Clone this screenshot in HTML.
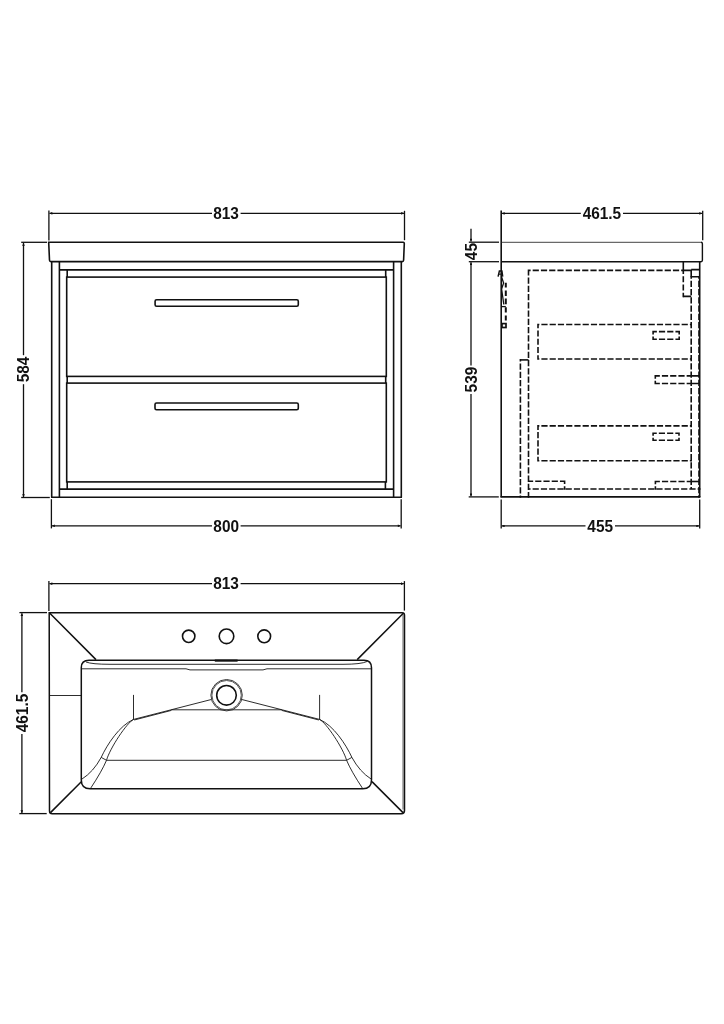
<!DOCTYPE html>
<html><head><meta charset="utf-8">
<style>
html,body{margin:0;padding:0;background:#fff;width:724px;height:1024px;overflow:hidden}
svg{display:block;filter:grayscale(1)}
text{font-family:"Liberation Sans",sans-serif;font-weight:bold;font-size:15.4px;fill:#111}
</style></head>
<body>
<svg width="724" height="1024" viewBox="0 0 724 1024">
<defs>
<marker id="ae" viewBox="0 0 10 10" refX="10" refY="5" markerWidth="7" markerHeight="2.8" orient="auto" markerUnits="userSpaceOnUse"><path d="M0,0 L10,5 L0,10z" fill="#111"/></marker>
<marker id="as" viewBox="0 0 10 10" refX="0" refY="5" markerWidth="7" markerHeight="2.8" orient="auto" markerUnits="userSpaceOnUse"><path d="M10,0 L0,5 L10,10z" fill="#111"/></marker>
</defs>
<g fill="none" stroke="#111" stroke-width="1.6" stroke-linecap="butt">
<!-- ===== FRONT VIEW ===== -->
<!-- dim 813 -->
<line x1="48.9" y1="210.5" x2="48.9" y2="240.5" stroke-width="1.3"/>
<line x1="404.5" y1="210.8" x2="404.5" y2="240.2" stroke-width="1.3"/>
<line x1="49.5" y1="213.3" x2="212" y2="213.3" stroke-width="1.3" marker-start="url(#as)"/>
<line x1="240.6" y1="213.3" x2="404" y2="213.3" stroke-width="1.3" marker-end="url(#ae)"/>
<!-- counter top -->
<path d="M48.7,242.3 H403.2 Q404.3,242.3 404.3,243.5 L403.6,260.3 Q403.5,261.6 402.2,261.6 H51 Q49.6,261.6 49.5,260.3 Z"/>
<!-- cabinet -->
<line x1="51.7" y1="261.6" x2="51.7" y2="497.4"/>
<line x1="401.3" y1="261.6" x2="401.3" y2="497.4"/>
<line x1="59.4" y1="261.6" x2="59.4" y2="497.4"/>
<line x1="393.6" y1="261.6" x2="393.6" y2="497.4"/>
<line x1="51" y1="497.3" x2="402" y2="497.3"/>
<line x1="59.4" y1="269.9" x2="393.6" y2="269.9"/>
<line x1="59.4" y1="489.1" x2="393.6" y2="489.1"/>
<!-- drawers -->
<path d="M67.2,269.9 V277 M385.7,269.9 V277"/>
<rect x="66.7" y="277.1" width="319.6" height="99.3"/>
<path d="M67.2,376.4 V383.1 M385.7,376.4 V383.1"/>
<rect x="66.7" y="383.1" width="319.6" height="98.8"/>
<path d="M67.2,481.9 V489.1 M385.4,481.9 V489.1"/>
<!-- handles -->
<rect x="155.1" y="299.8" width="143.2" height="6.4" rx="1.5"/>
<rect x="155" y="403" width="143.3" height="6.8" rx="1.5"/>
<!-- dim 584 -->
<line x1="21.2" y1="242.3" x2="47" y2="242.3" stroke-width="1.3"/>
<line x1="21.2" y1="497.5" x2="49.8" y2="497.5" stroke-width="1.3"/>
<line x1="23.5" y1="243" x2="23.5" y2="355.2" stroke-width="1.3" marker-start="url(#as)"/>
<line x1="23.5" y1="384.2" x2="23.5" y2="497" stroke-width="1.3" marker-end="url(#ae)"/>
<!-- dim 800 -->
<line x1="51.4" y1="499.2" x2="51.4" y2="528.4" stroke-width="1.3"/>
<line x1="401.2" y1="499.2" x2="401.2" y2="528.4" stroke-width="1.3"/>
<line x1="52" y1="525.8" x2="212" y2="525.8" stroke-width="1.3" marker-start="url(#as)"/>
<line x1="240.6" y1="525.8" x2="400.6" y2="525.8" stroke-width="1.3" marker-end="url(#ae)"/>

<!-- ===== SIDE VIEW ===== -->
<!-- dim 461.5 -->
<line x1="501.2" y1="210.5" x2="501.2" y2="497.2"/>
<line x1="702.7" y1="210.8" x2="702.7" y2="240.2" stroke-width="1.3"/>
<line x1="501.8" y1="213.4" x2="580.8" y2="213.4" stroke-width="1.3" marker-start="url(#as)"/>
<line x1="623" y1="213.4" x2="702.1" y2="213.4" stroke-width="1.3" marker-end="url(#ae)"/>
<!-- counter -->
<path d="M501.8,242.3 H701" stroke-width="1" stroke="#444"/>
<path d="M701,242.3 Q702.4,242.3 702.4,243.7 V260.3 Q702.4,261.7 701,261.7" stroke-width="1.4"/>
<line x1="501.2" y1="261.7" x2="701" y2="261.7"/>
<!-- body -->
<line x1="699.7" y1="261.7" x2="699.7" y2="497.2"/>
<line x1="500.5" y1="496.9" x2="700.4" y2="496.9"/>
<!-- ext lines -->
<line x1="468.8" y1="242.2" x2="499" y2="242.2" stroke-width="1.3"/>
<line x1="468.8" y1="261.7" x2="499" y2="261.7" stroke-width="1.3"/>
<line x1="468.7" y1="496.9" x2="498.8" y2="496.9" stroke-width="1.3"/>
<!-- dim 45 -->
<line x1="471" y1="228.7" x2="471" y2="241.6" stroke-width="1.3" marker-end="url(#ae)"/>
<!-- dim 539 -->
<line x1="471" y1="262.3" x2="471" y2="365.4" stroke-width="1.3" marker-start="url(#as)"/>
<line x1="471" y1="394" x2="471" y2="496.3" stroke-width="1.3" marker-end="url(#ae)"/>
<!-- dim 455 -->
<line x1="501.2" y1="499.4" x2="501.2" y2="528.4" stroke-width="1.3"/>
<line x1="699.7" y1="499.4" x2="699.7" y2="528.4" stroke-width="1.3"/>
<line x1="501.8" y1="525.9" x2="585.5" y2="525.9" stroke-width="1.3" marker-start="url(#as)"/>
<line x1="615" y1="525.9" x2="699.1" y2="525.9" stroke-width="1.3" marker-end="url(#ae)"/>
<!-- solid bits -->
<path d="M683.3,261.7 V270.4 H691.2 V276.7 M691.2,269.6 H699.7 M691.2,276.7 H699.7 M683.3,296.4 H691.2"/>
<path d="M691.2,375.9 H699.7 M691.2,383.5 H699.7"/>
<path d="M691.2,481.5 H699.7"/>
<path d="M520.4,359.9 H528.5"/>
</g>
<!-- dashed -->
<g fill="none" stroke="#111" stroke-width="1.6" stroke-linecap="square">
<path d="M528.50,270.40 L529.82,270.40 M533.48,270.40 L538.07,270.40 M541.73,270.40 L546.32,270.40 M549.98,270.40 L554.57,270.40 M558.23,270.40 L562.82,270.40 M566.48,270.40 L571.07,270.40 M574.73,270.40 L579.32,270.40 M582.98,270.40 L587.57,270.40 M591.23,270.40 L595.82,270.40 M599.48,270.40 L604.07,270.40 M607.73,270.40 L612.32,270.40 M615.98,270.40 L620.57,270.40 M624.23,270.40 L628.82,270.40 M632.48,270.40 L637.07,270.40 M640.73,270.40 L645.32,270.40 M648.98,270.40 L653.57,270.40 M657.22,270.40 L661.83,270.40 M665.47,270.40 L670.08,270.40 M673.72,270.40 L678.33,270.40 M681.97,270.40 L683.30,270.40 M528.50,270.40 L528.50,274.62 M528.50,278.27 L528.50,282.88 M528.50,286.52 L528.50,291.12 M528.50,294.77 L528.50,299.38 M528.50,303.02 L528.50,307.62 M528.50,311.27 L528.50,315.88 M528.50,319.52 L528.50,324.12 M528.50,327.77 L528.50,332.38 M528.50,336.02 L528.50,340.62 M528.50,344.27 L528.50,348.88 M528.50,352.52 L528.50,357.12 M528.50,360.77 L528.50,365.38 M528.50,369.02 L528.50,373.62 M528.50,377.27 L528.50,381.88 M528.50,385.52 L528.50,390.12 M528.50,393.77 L528.50,398.38 M528.50,402.02 L528.50,406.62 M528.50,410.27 L528.50,414.88 M528.50,418.52 L528.50,423.12 M528.50,426.77 L528.50,431.38 M528.50,435.02 L528.50,439.62 M528.50,443.27 L528.50,447.88 M528.50,451.52 L528.50,456.12 M528.50,459.77 L528.50,464.38 M528.50,468.02 L528.50,472.62 M528.50,476.27 L528.50,480.88 M528.50,484.52 L528.50,489.12 M528.50,492.77 L528.50,497.00 M683.30,270.40 L683.30,273.32 M683.30,276.97 L683.30,281.57 M683.30,285.22 L683.30,289.82 M683.30,293.47 L683.30,296.40 M691.20,276.70 L691.20,277.90 M691.20,281.55 L691.20,286.15 M691.20,289.80 L691.20,294.40 M691.20,298.05 L691.20,302.65 M691.20,306.30 L691.20,310.90 M691.20,314.55 L691.20,319.15 M691.20,322.80 L691.20,327.40 M691.20,331.05 L691.20,335.65 M691.20,339.30 L691.20,343.90 M691.20,347.55 L691.20,352.15 M691.20,355.80 L691.20,360.40 M691.20,364.05 L691.20,368.65 M691.20,372.30 L691.20,376.90 M691.20,380.55 L691.20,385.15 M691.20,388.80 L691.20,393.40 M691.20,397.05 L691.20,401.65 M691.20,405.30 L691.20,409.90 M691.20,413.55 L691.20,418.15 M691.20,421.80 L691.20,426.40 M691.20,430.05 L691.20,434.65 M691.20,438.30 L691.20,442.90 M691.20,446.55 L691.20,451.15 M691.20,454.80 L691.20,459.40 M691.20,463.05 L691.20,467.65 M691.20,471.30 L691.20,475.90 M691.20,479.55 L691.20,484.15 M691.20,487.80 L691.20,489.00 M691.20,324.50 L690.68,324.50 M687.02,324.50 L682.43,324.50 M678.77,324.50 L674.18,324.50 M670.52,324.50 L665.93,324.50 M662.27,324.50 L657.68,324.50 M654.02,324.50 L649.43,324.50 M645.77,324.50 L641.18,324.50 M637.52,324.50 L632.93,324.50 M629.27,324.50 L624.68,324.50 M621.02,324.50 L616.43,324.50 M612.77,324.50 L608.18,324.50 M604.52,324.50 L599.93,324.50 M596.27,324.50 L591.68,324.50 M588.02,324.50 L583.43,324.50 M579.77,324.50 L575.18,324.50 M571.52,324.50 L566.93,324.50 M563.27,324.50 L558.67,324.50 M555.03,324.50 L550.42,324.50 M546.78,324.50 L542.17,324.50 M538.53,324.50 L538.00,324.50 M538.00,324.50 L538.00,327.55 M538.00,331.20 L538.00,335.80 M538.00,339.45 L538.00,344.05 M538.00,347.70 L538.00,352.30 M538.00,355.95 L538.00,359.00 M538.00,359.00 L538.52,359.00 M542.18,359.00 L546.77,359.00 M550.43,359.00 L555.02,359.00 M558.68,359.00 L563.27,359.00 M566.93,359.00 L571.52,359.00 M575.18,359.00 L579.77,359.00 M583.43,359.00 L588.02,359.00 M591.68,359.00 L596.27,359.00 M599.93,359.00 L604.52,359.00 M608.18,359.00 L612.77,359.00 M616.43,359.00 L621.02,359.00 M624.68,359.00 L629.27,359.00 M632.93,359.00 L637.52,359.00 M641.18,359.00 L645.77,359.00 M649.43,359.00 L654.02,359.00 M657.68,359.00 L662.27,359.00 M665.93,359.00 L670.53,359.00 M674.17,359.00 L678.78,359.00 M682.42,359.00 L687.03,359.00 M690.67,359.00 L691.20,359.00 M653.10,331.60 L656.08,331.60 M659.73,331.60 L664.33,331.60 M667.98,331.60 L672.58,331.60 M676.23,331.60 L679.20,331.60 M679.20,331.60 L679.20,333.62 M679.20,337.28 L679.20,339.30 M679.20,339.30 L676.23,339.30 M672.58,339.30 L667.98,339.30 M664.33,339.30 L659.73,339.30 M656.08,339.30 L653.10,339.30 M653.10,339.30 L653.10,337.28 M653.10,333.62 L653.10,331.60 M691.20,375.90 L687.45,375.90 M683.80,375.90 L679.20,375.90 M675.55,375.90 L670.95,375.90 M667.30,375.90 L662.70,375.90 M659.05,375.90 L655.30,375.90 M655.30,375.90 L655.30,377.88 M655.30,381.52 L655.30,383.50 M655.30,383.50 L659.05,383.50 M662.70,383.50 L667.30,383.50 M670.95,383.50 L675.55,383.50 M679.20,383.50 L683.80,383.50 M687.45,383.50 L691.20,383.50 M691.20,425.90 L690.68,425.90 M687.02,425.90 L682.43,425.90 M678.77,425.90 L674.18,425.90 M670.52,425.90 L665.93,425.90 M662.27,425.90 L657.68,425.90 M654.02,425.90 L649.43,425.90 M645.77,425.90 L641.18,425.90 M637.52,425.90 L632.93,425.90 M629.27,425.90 L624.68,425.90 M621.02,425.90 L616.43,425.90 M612.77,425.90 L608.18,425.90 M604.52,425.90 L599.93,425.90 M596.27,425.90 L591.68,425.90 M588.02,425.90 L583.43,425.90 M579.77,425.90 L575.18,425.90 M571.52,425.90 L566.93,425.90 M563.27,425.90 L558.67,425.90 M555.03,425.90 L550.42,425.90 M546.78,425.90 L542.17,425.90 M538.53,425.90 L538.00,425.90 M538.00,425.90 L538.00,429.15 M538.00,432.80 L538.00,437.40 M538.00,441.05 L538.00,445.65 M538.00,449.30 L538.00,453.90 M538.00,457.55 L538.00,460.80 M538.00,460.80 L538.52,460.80 M542.18,460.80 L546.77,460.80 M550.43,460.80 L555.02,460.80 M558.68,460.80 L563.27,460.80 M566.93,460.80 L571.52,460.80 M575.18,460.80 L579.77,460.80 M583.43,460.80 L588.02,460.80 M591.68,460.80 L596.27,460.80 M599.93,460.80 L604.52,460.80 M608.18,460.80 L612.77,460.80 M616.43,460.80 L621.02,460.80 M624.68,460.80 L629.27,460.80 M632.93,460.80 L637.52,460.80 M641.18,460.80 L645.77,460.80 M649.43,460.80 L654.02,460.80 M657.68,460.80 L662.27,460.80 M665.93,460.80 L670.53,460.80 M674.17,460.80 L678.78,460.80 M682.42,460.80 L687.03,460.80 M690.67,460.80 L691.20,460.80 M653.10,433.20 L655.98,433.20 M659.62,433.20 L664.23,433.20 M667.88,433.20 L672.48,433.20 M676.12,433.20 L679.00,433.20 M679.00,433.20 L679.00,434.93 M679.00,438.57 L679.00,440.30 M679.00,440.30 L676.12,440.30 M672.48,440.30 L667.88,440.30 M664.23,440.30 L659.62,440.30 M655.98,440.30 L653.10,440.30 M653.10,440.30 L653.10,438.57 M653.10,434.93 L653.10,433.20 M528.50,481.30 L532.35,481.30 M536.00,481.30 L540.60,481.30 M544.25,481.30 L548.85,481.30 M552.50,481.30 L557.10,481.30 M560.75,481.30 L564.60,481.30 M564.60,481.30 L564.60,483.32 M564.60,486.98 L564.60,489.00 M691.20,481.50 L687.50,481.50 M683.85,481.50 L679.25,481.50 M675.60,481.50 L671.00,481.50 M667.35,481.50 L662.75,481.50 M659.10,481.50 L655.40,481.50 M655.40,481.50 L655.40,483.43 M655.40,487.07 L655.40,489.00 M528.50,489.00 L529.77,489.00 M533.43,489.00 L538.02,489.00 M541.68,489.00 L546.27,489.00 M549.93,489.00 L554.52,489.00 M558.18,489.00 L562.77,489.00 M566.43,489.00 L571.02,489.00 M574.68,489.00 L579.27,489.00 M582.93,489.00 L587.52,489.00 M591.18,489.00 L595.77,489.00 M599.43,489.00 L604.02,489.00 M607.68,489.00 L612.27,489.00 M615.93,489.00 L620.52,489.00 M624.18,489.00 L628.77,489.00 M632.43,489.00 L637.02,489.00 M640.68,489.00 L645.27,489.00 M648.93,489.00 L653.52,489.00 M657.17,489.00 L661.78,489.00 M665.42,489.00 L670.03,489.00 M673.67,489.00 L678.28,489.00 M681.92,489.00 L686.53,489.00 M690.17,489.00 L694.78,489.00 M698.42,489.00 L699.70,489.00 M520.40,359.90 L520.40,360.62 M520.40,364.27 L520.40,368.88 M520.40,372.52 L520.40,377.12 M520.40,380.77 L520.40,385.38 M520.40,389.02 L520.40,393.62 M520.40,397.27 L520.40,401.88 M520.40,405.52 L520.40,410.12 M520.40,413.77 L520.40,418.38 M520.40,422.02 L520.40,426.62 M520.40,430.27 L520.40,434.88 M520.40,438.52 L520.40,443.12 M520.40,446.77 L520.40,451.38 M520.40,455.02 L520.40,459.62 M520.40,463.27 L520.40,467.88 M520.40,471.52 L520.40,476.12 M520.40,479.77 L520.40,484.38 M520.40,488.02 L520.40,492.62 M520.40,496.27 L520.40,497.00 M699.00,277.00 L699.00,277.93 M699.00,281.57 L699.00,286.18 M699.00,289.82 L699.00,294.43 M699.00,298.07 L699.00,302.68 M699.00,306.32 L699.00,310.93 M699.00,314.57 L699.00,319.18 M699.00,322.82 L699.00,327.43 M699.00,331.07 L699.00,335.68 M699.00,339.32 L699.00,343.93 M699.00,347.57 L699.00,352.18 M699.00,355.82 L699.00,360.43 M699.00,364.07 L699.00,368.68 M699.00,372.32 L699.00,376.93 M699.00,380.57 L699.00,385.18 M699.00,388.82 L699.00,393.43 M699.00,397.07 L699.00,401.68 M699.00,405.32 L699.00,409.93 M699.00,413.57 L699.00,418.18 M699.00,421.82 L699.00,426.43 M699.00,430.07 L699.00,434.68 M699.00,438.32 L699.00,442.93 M699.00,446.57 L699.00,451.18 M699.00,454.82 L699.00,459.43 M699.00,463.07 L699.00,467.68 M699.00,471.32 L699.00,475.93 M699.00,479.57 L699.00,484.18 M699.00,487.82 L699.00,492.43 M699.00,496.07 L699.00,497.00"/>
</g>
<!-- handle profile -->
<g fill="none" stroke="#111" stroke-width="1.5">
<path d="M498.1,276.6 L499.4,270.9 H501.9 L502.7,276.6"/>
<path d="M498.8,274.2 H502.4" stroke-width="1"/>
<path d="M501.6,277 L503.6,283 L501.6,289 L502.6,296 L503.8,304.5" stroke-width="1.3"/>
<path d="M505.8,282.8 V287.4 M505.8,290.6 V296 M505.8,298.4 V304.2 M505.8,307.3 V312.4 M505.8,315.5 V320.6" stroke-width="2"/>
<path d="M501.5,306.6 H505.8" stroke-width="1.3"/>
<rect x="502" y="323.6" width="4" height="3.9" stroke-width="1.7"/>
</g>

<!-- ===== TOP VIEW (basin) ===== -->
<g fill="none" stroke="#111" stroke-width="1.5">
<!-- dim 813 -->
<line x1="48.9" y1="581" x2="48.9" y2="610.9" stroke-width="1.3"/>
<line x1="404.4" y1="581.1" x2="404.4" y2="610.6" stroke-width="1.3"/>
<line x1="49.5" y1="583.7" x2="212" y2="583.7" stroke-width="1.3" marker-start="url(#as)"/>
<line x1="240.6" y1="583.7" x2="403.8" y2="583.7" stroke-width="1.3" marker-end="url(#ae)"/>
<!-- dim 461.5 -->
<line x1="19.4" y1="612.6" x2="47" y2="612.6" stroke-width="1.3"/>
<line x1="19.3" y1="813.6" x2="46.7" y2="813.6" stroke-width="1.3"/>
<line x1="21.9" y1="613.2" x2="21.9" y2="692.3" stroke-width="1.3" marker-start="url(#as)"/>
<line x1="21.9" y1="734" x2="21.9" y2="813" stroke-width="1.3" marker-end="url(#ae)"/>
<!-- outer -->
<line x1="403" y1="614.8" x2="403" y2="809.5" stroke-width="1.8" stroke="#aaa"/>
<path d="M49.2,612.8 H402 Q404.5,612.8 404.5,615.3 V810.6 Q404.5,813.8 401.3,813.8 H52.2 Q49.5,813.8 49.5,811 Z"/>

<!-- diagonals -->
<path d="M49.6,613 L96,659.6 M403.6,613 L357.2,659.6 M50.5,812.6 L81.3,781.8 M403,812.6 L372,781.6"/>
<!-- inner basin -->
<path d="M89,660.2 H364 Q371.5,660.2 371.5,667.7 V780 Q371.5,788.8 362.7,788.8 H90.2 Q81.3,788.8 81.3,780 V667.5 Q81.3,660.2 89,660.2 Z"/>
<!-- overflow slot -->
<line x1="214.8" y1="660.6" x2="237.6" y2="660.6" stroke-width="2.2"/>
<!-- taps -->
<circle cx="188.7" cy="636.3" r="6.2" stroke-width="1.6"/>
<circle cx="226.5" cy="636.3" r="7.3" stroke-width="1.6"/>
<circle cx="264.2" cy="636.3" r="6.4" stroke-width="1.6"/>
<!-- drain -->
<circle cx="226.5" cy="695.3" r="9.8" stroke-width="1.6"/>
</g>
<g fill="none" stroke="#151515" stroke-width="0.9">
<path d="M81.5,668.8 H186 L190,669.9 H263 L267,668.8 H371.5"/>
<path d="M86,662 Q92,664.3 110,664.3 H343 Q361,664.3 367,661.5"/>
<path d="M49.5,695.5 H81.3"/>
<path d="M133.5,694.9 V719.6 M319.6,694.9 V719.6"/>
<path d="M171.4,709.8 H281.7"/>
<path d="M106.5,760.3 H346.6"/>
<path d="M101.2,757.4 L106.5,760.3 M351.9,757.4 L346.6,760.3"/>
<path d="M211.3,699.5 L133.6,719.4 M171.4,710.4 L134.2,720 M241.8,699.5 L319.5,719.4 M281.7,710.4 L318.9,720"/>
<path d="M133.60,719.40 C119.60,725.40 107.20,744.40 101.20,757.40 M101.20,757.40 Q93.45,771.75 81.90,779.10 M133.60,719.40 C127.00,722.50 110.00,748.00 106.50,760.30 M106.50,760.30 Q101.85,771.30 90.60,788.30 M319.50,719.40 C333.50,725.40 345.90,744.40 351.90,757.40 M351.90,757.40 Q359.65,771.75 371.20,779.10 M319.50,719.40 C326.10,722.50 343.10,748.00 346.60,760.30 M346.60,760.30 Q351.25,771.30 362.50,788.30"/>
<circle cx="226.6" cy="695.2" r="15.7" stroke="#222" stroke-width="0.9"/>
<circle cx="226.6" cy="695.2" r="14.7" stroke="#444" stroke-width="0.9"/>
</g>

<!-- texts -->
<g class="t">
<text transform="translate(226,218.9) scale(1,1.1)" text-anchor="middle">813</text>
<text transform="translate(226.2,531.6) scale(1,1.1)" text-anchor="middle">800</text>
<text transform="translate(601.9,218.9) scale(1,1.1)" text-anchor="middle">461.5</text>
<text transform="translate(600.2,531.9) scale(1,1.1)" text-anchor="middle">455</text>
<text transform="translate(226,589.4) scale(1,1.1)" text-anchor="middle">813</text>
<text transform="translate(29.3,369.5) rotate(-90) scale(1,1.1)" text-anchor="middle">584</text>
<text transform="translate(476.6,251.6) rotate(-90) scale(1,1.1)" text-anchor="middle">45</text>
<text transform="translate(476.7,379.6) rotate(-90) scale(1,1.1)" text-anchor="middle">539</text>
<text transform="translate(27.6,713) rotate(-90) scale(1,1.1)" text-anchor="middle">461.5</text>
</g>
</svg>
</body></html>
